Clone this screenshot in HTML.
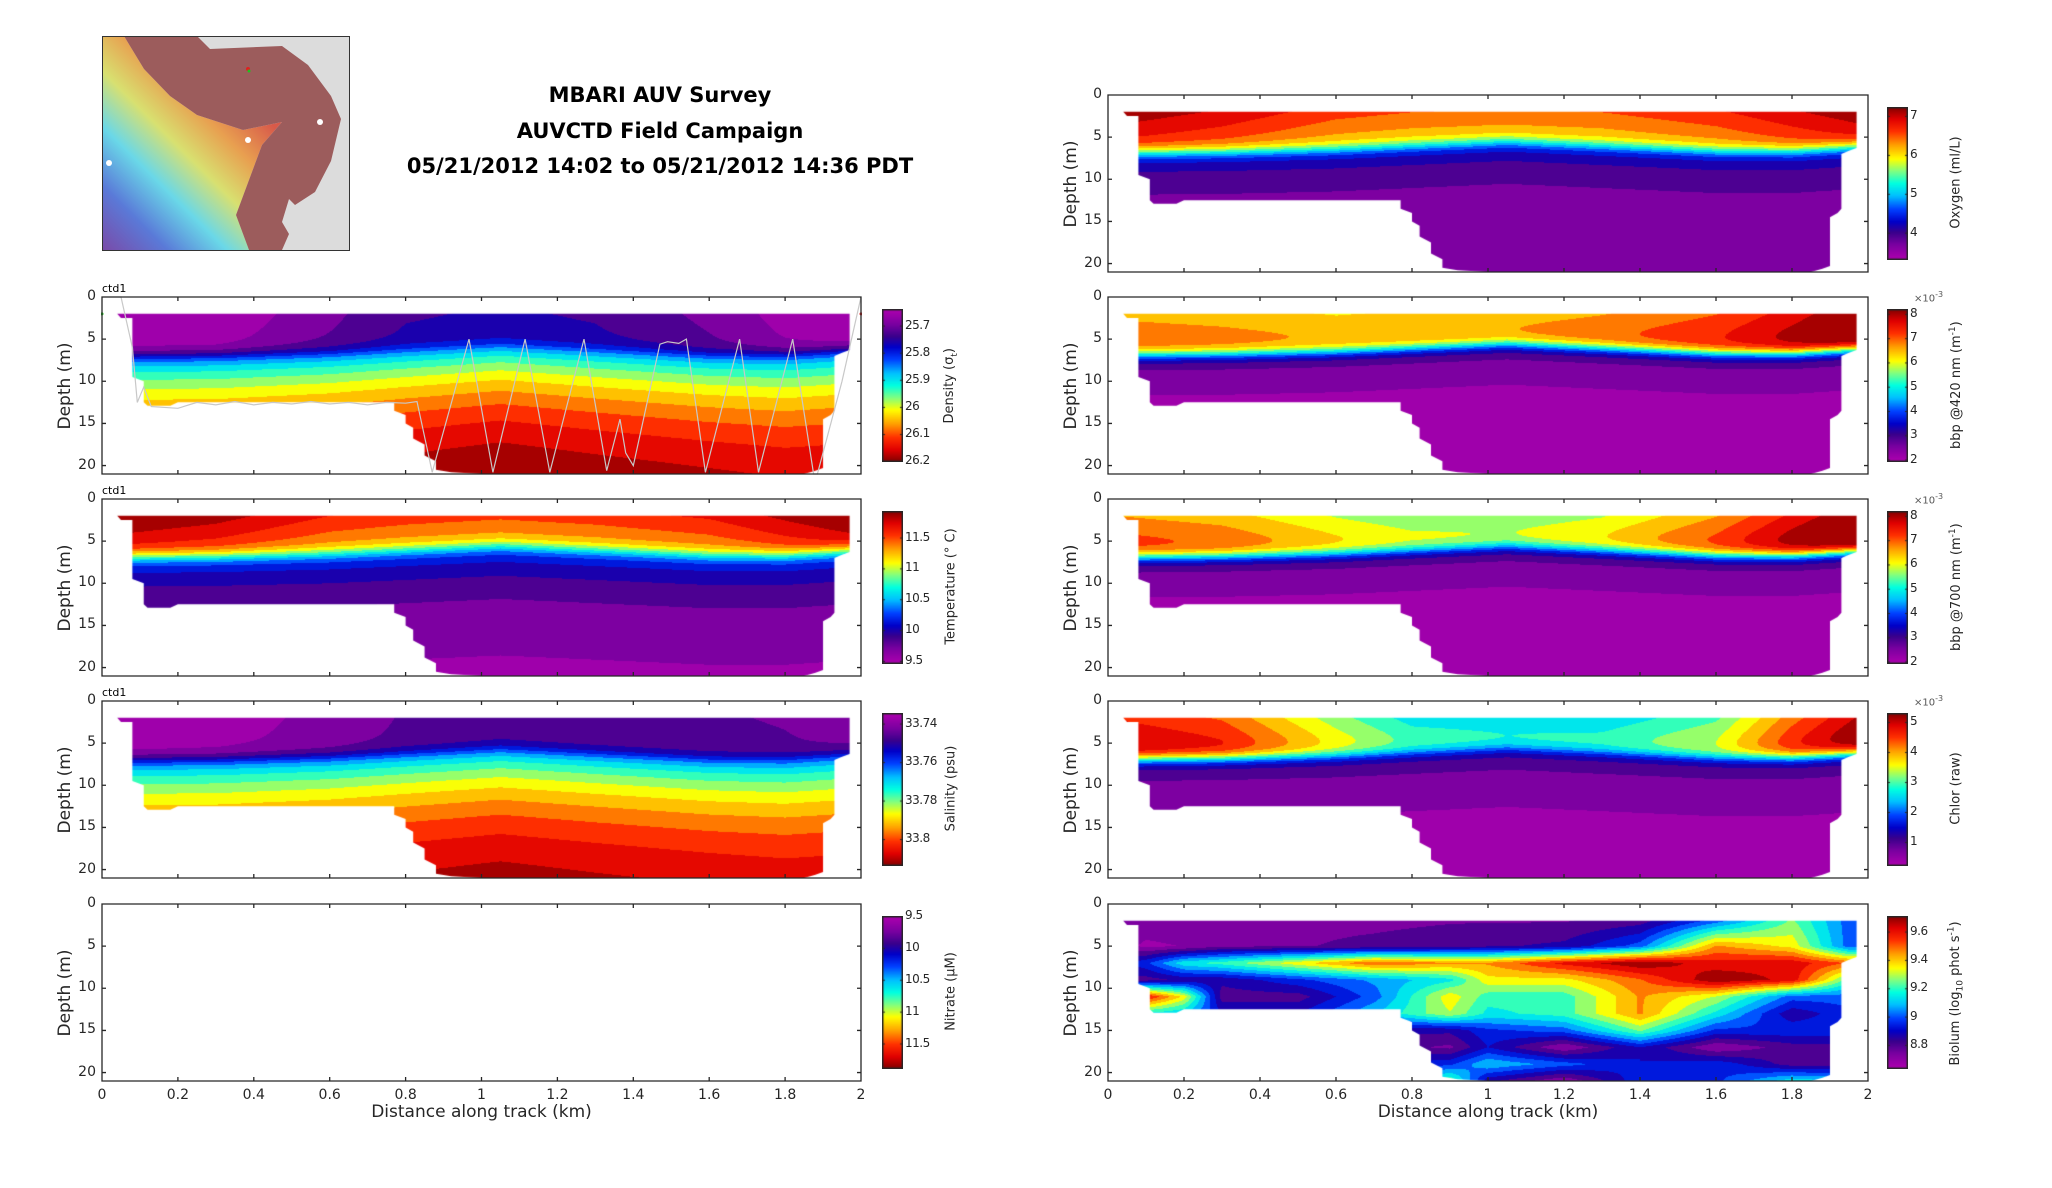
<!DOCTYPE html>
<html><head><meta charset="utf-8">
<style>
html,body{margin:0;padding:0;background:#fff;}
#root{position:relative;width:2052px;height:1188px;overflow:hidden;font-family:"DejaVu Sans","Liberation Sans",sans-serif;color:#262626;}
.t{position:absolute;white-space:nowrap;}
.title{font-weight:bold;font-size:21px;color:#000;transform:translateX(-50%);}
.tick{font-size:14px;}
canvas{position:absolute;}
svg{position:absolute;left:0;top:0;}
</style></head>
<body>
<div id="root">
  <svg id="map" style="left:102px;top:36px" width="248" height="215" viewBox="0 0 248 215">
    <defs>
      <linearGradient id="rb" x1="0" y1="1" x2="0.75" y2="0.1">
        <stop offset="0" stop-color="#7a4aa8"/>
        <stop offset="0.2" stop-color="#5a7ad8"/>
        <stop offset="0.38" stop-color="#6ad8e8"/>
        <stop offset="0.55" stop-color="#d8e070"/>
        <stop offset="0.72" stop-color="#e8a050"/>
        <stop offset="0.9" stop-color="#d85a4a"/>
      </linearGradient>
    </defs>
    <rect x="0" y="0" width="248" height="215" fill="#dcdcdc"/>
    <polygon fill="url(#rb)" points="0,0 22,0 42,33 68,60 95,79 141,94 180,86 160,109 147,144 134,179 147,214 0,214"/>
    <polygon fill="#9c5c5c" points="22,0 95,0 108,13 180,10 206,29 229,60 239,83 229,125 213,156 193,169 187,163 180,186 187,198 180,214 147,214 134,179 147,144 160,109 180,86 141,94 95,79 68,60 42,33"/>
    <circle cx="146" cy="33" r="2" fill="#e02020"/><circle cx="147" cy="35" r="1.5" fill="#20c020"/>
    <circle cx="218" cy="86" r="3" fill="#fff"/><circle cx="146" cy="104" r="3" fill="#fff"/><circle cx="7" cy="127" r="3" fill="#fff"/>
    <rect x="0.5" y="0.5" width="247" height="214" fill="none" stroke="#333" stroke-width="1"/>
  </svg>
  <div class="t title" style="left:660px;top:83px">MBARI AUV Survey</div>
  <div class="t title" style="left:660px;top:119px">AUVCTD Field Campaign</div>
  <div class="t title" style="left:660px;top:154px">05/21/2012 14:02 to 05/21/2012 14:36 PDT</div>
</div>
<script>
// ---- shared section data ----
const xKnots   = [0.05, 0.3, 0.6, 0.8, 1.05, 1.3, 1.6, 1.8, 1.97];
const thermo   = [6.8, 6.7, 6.4, 6.0, 5.5, 6.0, 6.6, 6.6, 6.1];
const maskX = [0.04,1.97,1.97,1.95,1.93,1.93,1.92,1.90,1.90,1.88,1.85,1.0,0.92,0.88,0.88,0.85,0.85,0.82,0.82,0.80,0.80,0.77,0.77,0.20,0.18,0.12,0.11,0.11,0.08,0.08,0.05];
const maskD = [2,2,6.3,6.6,7,13.5,14,14.5,20.3,20.6,21,21,20.8,20.5,19.5,18.8,17.5,16.8,15.5,15,14,13.5,12.5,12.5,12.9,12.9,12.5,10,9.5,2.5,2.5];
// density
const densSurf = [25.64,25.645,25.70,25.74,25.75,25.74,25.70,25.66,25.64];
const densBase = [25.83,25.83,25.84,25.85,25.86,25.85,25.84,25.83,25.83];
const densAmp  = [0.40,0.40,0.40,0.40,0.40,0.40,0.40,0.40,0.40];
// temperature
const tempSurf = [11.95,11.85,11.62,11.55,11.5,11.55,11.65,11.82,11.95];
const tempBase = [10.3,10.3,10.3,10.3,10.3,10.3,10.3,10.3,10.3];
const tempAmp  = [-0.75,-0.75,-0.75,-0.75,-0.75,-0.75,-0.75,-0.75,-0.75];
// salinity
const salSurf = [33.736,33.737,33.741,33.745,33.747,33.746,33.745,33.744,33.742];
const salBase = [33.762,33.762,33.763,33.764,33.765,33.764,33.763,33.762,33.762];
const salAmp  = [0.054,0.054,0.054,0.054,0.054,0.054,0.054,0.054,0.054];
// oxygen
const oxySurf = [7.15,6.95,6.6,6.5,6.45,6.5,6.7,6.95,7.15];
const oxyBase = [4.4,4.4,4.4,4.4,4.4,4.4,4.4,4.4,4.4];
const oxyAmp  = [-0.85,-0.85,-0.85,-0.85,-0.85,-0.85,-0.85,-0.85,-0.85];
// bbp420 (x1e-3)
const b420Surf = [6.5,6.4,6.2,6.3,6.4,6.6,7.0,7.6,8.2];
const b420Base = [3.0,3.0,3.0,3.0,3.0,3.0,3.0,3.0,3.0];
const b420Amp  = [-1.0,-1.0,-1.0,-1.0,-1.0,-1.0,-1.0,-1.0,-1.0];
// bbp700 (x1e-3)
const b700Surf = [6.6,6.4,5.8,5.5,5.5,5.8,6.6,7.5,8.2];
const b700Base = [3.0,3.0,3.0,3.0,3.0,3.0,3.0,3.0,3.0];
const b700Amp  = [-1.0,-1.0,-1.0,-1.0,-1.0,-1.0,-1.0,-1.0,-1.0];
// chlor (x1e-3)
const chlSurf = [4.6,4.3,3.2,2.6,2.5,2.5,3.0,4.2,5.0];
const chlBase = [1.2,1.2,1.2,1.2,1.2,1.2,1.2,1.2,1.2];
const chlAmp  = [-0.9,-0.9,-0.9,-0.9,-0.9,-0.9,-0.9,-0.9,-0.9];
// biolum grid (log10)
const bioX = [0.05,0.1,0.2,0.3,0.5,0.7,0.9,1.0,1.2,1.4,1.6,1.8,1.95];
const bioD = [2,5,7,9,11,13,15,17,19,21];
const bioGrid = [
 [8.75,8.75,8.76,8.76,8.75,8.75,8.76,8.76,8.76,8.8,9.0,9.25,9.0],
 [8.72,8.68,8.7,8.75,8.76,8.78,8.8,8.82,8.85,9.0,9.45,9.35,9.0],
 [8.9,8.95,9.15,9.2,9.35,9.5,9.45,9.45,9.6,9.7,9.6,9.62,9.5],
 [8.8,8.8,8.85,8.85,8.95,9.05,9.15,9.35,9.35,9.5,9.7,9.62,9.2],
 [9.6,9.6,9.35,8.8,8.8,9.0,9.35,9.2,9.2,9.45,9.3,9.0,9.0],
 [9.15,9.15,9.1,8.9,8.9,9.1,9.3,9.15,9.2,9.45,9.15,8.85,8.95],
 [9.0,9.0,9.0,8.9,8.9,8.85,8.85,8.95,9.0,9.25,8.95,8.95,8.95],
 [8.8,8.8,8.8,8.8,8.8,8.8,8.75,8.9,8.7,8.9,8.7,8.8,8.8],
 [8.9,8.9,8.9,8.9,8.9,8.9,8.95,9.1,9.0,8.9,8.95,8.8,8.8],
 [8.9,8.9,8.9,8.9,8.9,8.9,9.25,8.85,8.7,8.95,8.95,9.15,9.1]
];
// CTD yo-yo track
const ctdX = [0,0.05,0.08,0.093,0.11,0.13,0.2,0.25,0.3,0.35,0.4,0.45,0.5,0.55,0.6,0.65,0.7,0.75,0.8,0.83,0.87,0.967,1.03,1.115,1.18,1.27,1.33,1.365,1.38,1.40,1.47,1.49,1.52,1.54,1.59,1.68,1.73,1.82,1.875,1.885,1.95,2.0];
const ctdD = [0,0,6,12.5,10.7,13,13.2,12.5,12.8,12.4,12.8,12.5,12.7,12.4,12.7,12.5,12.8,12.5,12.6,12.4,20.8,5,20.8,5,20.8,5,20.6,14.5,18.5,20,5.6,5.3,5.5,5,20.8,5,20.8,5,21.5,21.5,10,0];
// tick labels
const xTicks = [0,0.2,0.4,0.6,0.8,1,1.2,1.4,1.6,1.8,2];
const yTicks = [0,5,10,15,20];

const root = document.getElementById('root');
const NS = 'http://www.w3.org/2000/svg';
const XMAX = 2, DMAX = 21;
const LEFT = {x0:102, x1:861, cb:882};
const RIGHT = {x0:1108, x1:1868, cb:1887};
const TOPS = [95,297,499,701,904];
const PH = 177;

function interp(xs, ys, x){
  if (x <= xs[0]) return ys[0];
  for (let i=1;i<xs.length;i++){ if (x <= xs[i]){ const f=(x-xs[i-1])/(xs[i]-xs[i-1]); return ys[i-1]+f*(ys[i]-ys[i-1]); } }
  return ys[ys.length-1];
}
const CM = [[0,176,0,176],[0.1,122,0,160],[0.18,58,0,140],[0.25,0,0,200],[0.33,0,64,255],[0.42,0,192,255],[0.5,0,255,224],[0.58,128,255,128],[0.66,255,255,0],[0.75,255,160,0],[0.84,255,48,0],[0.92,224,0,0],[1,128,0,0]];
function cmap(t){
  t=Math.max(0,Math.min(1,t));
  for (let i=1;i<CM.length;i++){ if (t<=CM[i][0]){ const a=CM[i-1],b=CM[i],f=(t-a[0])/(b[0]-a[0]); return [a[1]+f*(b[1]-a[1]),a[2]+f*(b[2]-a[2]),a[3]+f*(b[3]-a[3])]; } }
  return [128,0,0];
}
const NLEV = 16;
function qcolor(v, lo, hi){
  let t=(v-lo)/(hi-lo); let i=Math.floor(t*NLEV); i=Math.max(0,Math.min(NLEV-1,i));
  return cmap((i+0.5)/NLEV);
}
function layerField(p){
  return function(x,d){
    const z0=interp(xKnots,thermo,x);
    const s=interp(xKnots,p.surf,x)+p.up*(d-2);
    const b=interp(xKnots,p.base,x)+interp(xKnots,p.amp,x)*(1-Math.exp(-Math.max(0,d-z0)/p.L));
    const w=1/(1+Math.exp(-(d-z0)/0.45));
    return s*(1-w)+b*w;
  };
}
function bioField(x,d){
  let j=0; while (j<bioD.length-2 && d>bioD[j+1]) j++;
  let i=0; while (i<bioX.length-2 && x>bioX[i+1]) i++;
  const fx=Math.max(0,Math.min(1,(x-bioX[i])/(bioX[i+1]-bioX[i])));
  const fd=Math.max(0,Math.min(1,(d-bioD[j])/(bioD[j+1]-bioD[j])));
  const a=bioGrid[j][i]*(1-fx)+bioGrid[j][i+1]*fx;
  const b=bioGrid[j+1][i]*(1-fx)+bioGrid[j+1][i+1]*fx;
  return a*(1-fd)+b*fd;
}
function txt(s, x, y, cls, name, extra){
  const e=document.createElement('div');
  e.className='t '+(cls||'');
  e.innerHTML=s;
  e.style.left=x+'px'; e.style.top=y+'px';
  if (extra) e.style.cssText+=extra;
  
  
  root.appendChild(e);
  return e;
}

const panels = [
 {name:'density', side:LEFT, row:1, lo:25.639, hi:26.203, rev:true, f:layerField({surf:densSurf,base:densBase,amp:densAmp,up:0.004,L:8}), ticks:[25.7,25.8,25.9,26,26.1,26.2], tl:['25.7','25.8','25.9','26','26.1','26.2'], label:'Density (&sigma;<sub style="font-size:9px">t</sub>)', ctd:true, ctdLabel:true},
 {name:'temperature', side:LEFT, row:2, lo:9.45, hi:11.93, rev:false, f:layerField({surf:tempSurf,base:tempBase,amp:tempAmp,up:-0.08,L:5}), ticks:[9.5,10,10.5,11,11.5], tl:['9.5','10','10.5','11','11.5'], label:'Temperature (&deg; C)', ctdLabel:true},
 {name:'salinity', side:LEFT, row:3, lo:33.7345, hi:33.814, rev:true, f:layerField({surf:salSurf,base:salBase,amp:salAmp,up:0.0003,L:8}), ticks:[33.74,33.76,33.78,33.8], tl:['33.74','33.76','33.78','33.8'], label:'Salinity (psu)', ctdLabel:true},
 {name:'nitrate', side:LEFT, row:4, lo:9.5, hi:11.9, rev:true, f:null, ticks:[9.5,10,10.5,11,11.5], tl:['9.5','10','10.5','11','11.5'], label:'Nitrate (&mu;M)', xlab:true},
 {name:'oxygen', side:RIGHT, row:0, lo:3.3, hi:7.23, rev:false, f:layerField({surf:oxySurf,base:oxyBase,amp:oxyAmp,up:-0.12,L:4}), ticks:[4,5,6,7], tl:['4','5','6','7'], label:'Oxygen (ml/L)'},
 {name:'bbp420', side:RIGHT, row:1, lo:1.9, hi:8.2, rev:false, f:layerField({surf:b420Surf,base:b420Base,amp:b420Amp,up:0.15,L:4}), ticks:[2,3,4,5,6,7,8], tl:['2','3','4','5','6','7','8'], label:'bbp @420 nm (m<sup style="font-size:9px">-1</sup>)', exp:true},
 {name:'bbp700', side:RIGHT, row:2, lo:1.9, hi:8.2, rev:false, f:layerField({surf:b700Surf,base:b700Base,amp:b700Amp,up:0.2,L:4}), ticks:[2,3,4,5,6,7,8], tl:['2','3','4','5','6','7','8'], label:'bbp @700 nm (m<sup style="font-size:9px">-1</sup>)', exp:true},
 {name:'chlor', side:RIGHT, row:3, lo:0.2, hi:5.3, rev:false, f:layerField({surf:chlSurf,base:chlBase,amp:chlAmp,up:0.15,L:5}), ticks:[1,2,3,4,5], tl:['1','2','3','4','5'], label:'Chlor (raw)', exp:true},
 {name:'biolum', side:RIGHT, row:4, lo:8.63, hi:9.71, rev:false, f:bioField, ticks:[8.8,9,9.2,9.4,9.6], tl:['8.8','9','9.2','9.4','9.6'], label:'Biolum (log<sub style="font-size:9px">10</sub> phot s<sup style="font-size:9px">-1</sup>)', xlab:true}
];

panels.forEach(p=>{
  const S=p.side, top=TOPS[p.row], W=S.x1-S.x0, H=PH;
  const sx=x=>x/XMAX*W, sy=d=>d/DMAX*H;
  if (p.f){
    const cv=document.createElement('canvas');
    cv.width=W; cv.height=H;
    cv.style.left=S.x0+'px'; cv.style.top=top+'px';
    
    
    root.appendChild(cv);
    const off=document.createElement('canvas'); off.width=W; off.height=H;
    const oc=off.getContext('2d'); const img=oc.createImageData(W,H);
    for (let py=0;py<H;py++){
      const d=(py+0.5)/H*DMAX;
      for (let px=0;px<W;px++){
        const x=(px+0.5)/W*XMAX;
        const c=qcolor(p.f(x,d),p.lo,p.hi);
        const k=(py*W+px)*4; img.data[k]=c[0]; img.data[k+1]=c[1]; img.data[k+2]=c[2]; img.data[k+3]=255;
      }
    }
    oc.putImageData(img,0,0);
    const ctx=cv.getContext('2d');
    ctx.beginPath();
    maskX.forEach((mx,i)=>{ const X=sx(mx), Y=sy(maskD[i]); i?ctx.lineTo(X,Y):ctx.moveTo(X,Y); });
    ctx.closePath(); ctx.clip(); ctx.drawImage(off,0,0);
  }
  const svg=document.createElementNS(NS,'svg');
  svg.setAttribute('width',W+2); svg.setAttribute('height',H+2);
  svg.style.left=(S.x0-1)+'px'; svg.style.top=(top-1)+'px';
  
  
  root.appendChild(svg);
  const g=document.createElementNS(NS,'g'); g.setAttribute('transform','translate(1,1)'); svg.appendChild(g);
  if (p.ctd){
    const pl=document.createElementNS(NS,'polyline');
    pl.setAttribute('points', ctdX.map((x,i)=>sx(x).toFixed(1)+','+Math.min(H,sy(ctdD[i])).toFixed(1)).join(' '));
    pl.setAttribute('fill','none'); pl.setAttribute('stroke','#c8c8c8'); pl.setAttribute('stroke-width','1.2');
    
    
    g.appendChild(pl);
    [[0,'#20c020'],[2,'#e02020']].forEach(([x,col])=>{
      const c=document.createElementNS(NS,'circle'); c.setAttribute('cx',sx(x)); c.setAttribute('cy',sy(2)); c.setAttribute('r',1.5); c.setAttribute('fill',col);
      
      
      g.appendChild(c);
    });
  }
  let path='M0,0 H'+W+' V'+H+' H0 Z';
  xTicks.forEach(t=>{ const X=sx(t); path+=' M'+X+',0 v4 M'+X+','+H+' v-4'; });
  yTicks.forEach(t=>{ const Y=sy(t); path+=' M0,'+Y+' h4 M'+W+','+Y+' h-4'; });
  const ax=document.createElementNS(NS,'path'); ax.setAttribute('d',path); ax.setAttribute('fill','none'); ax.setAttribute('stroke','#262626'); ax.setAttribute('stroke-width','1.3');
  
  
  g.appendChild(ax);
  yTicks.forEach(t=>{
    txt(String(t), S.x0-38, top+sy(t)-9, 'tick', 'y-tick-label', 'width:32px;text-align:right;');
  });
  txt('Depth (m)', S.x0-37, top+H/2-10, '', 'y-axis-title', 'font-size:17px;transform:translate(-50%,0) rotate(-90deg);transform-origin:50% 50%;');
  if (p.ctdLabel) txt('ctd1', S.x0, top-15, '', 'ctd-label', 'font-size:11px;color:#000;');
  if (p.xlab){
    xTicks.forEach(t=>{ txt(String(t), S.x0+sx(t), top+H+6, 'tick', 'x-tick-label', 'transform:translateX(-50%);'); });
    txt('Distance along track (km)', S.x0+W/2, top+H+21, '', 'x-axis-title', 'font-size:17px;transform:translateX(-50%);');
  }
  const cbT=top+12, cbH=H-24, cbW=21;
  const cb=document.createElement('canvas'); cb.width=cbW; cb.height=cbH;
  cb.style.left=S.cb+'px'; cb.style.top=cbT+'px';
  
  
  root.appendChild(cb);
  const cc=cb.getContext('2d');
  for (let y=0;y<cbH;y++){
    const f=(y+0.5)/cbH; const v=p.rev? p.lo+f*(p.hi-p.lo) : p.hi-f*(p.hi-p.lo);
    const c=cmap((v-p.lo)/(p.hi-p.lo)); cc.fillStyle='rgb('+c.map(Math.round).join(',')+')'; cc.fillRect(0,y,cbW,1);
  }
  cc.strokeStyle='#262626'; cc.lineWidth=1.5; cc.strokeRect(0.75,0.75,cbW-1.5,cbH-1.5);
  p.ticks.forEach((t,i)=>{
    const f=(t-p.lo)/(p.hi-p.lo); const yy=p.rev? f*cbH : (1-f)*cbH;
    cc.fillStyle='#262626'; cc.fillRect(0,yy,3,1); cc.fillRect(cbW-3,yy,3,1);
    txt(p.tl[i], S.cb+cbW+2, cbT+yy-8, 'tick', 'colorbar-tick-label', 'font-size:12px;letter-spacing:-0.5px;');
  });
  txt(p.label, S.cb+cbW+48, cbT+cbH/2-9, '', 'colorbar-title', 'font-size:13px;transform:translate(-50%,0) rotate(-90deg);transform-origin:50% 50%;');
  if (p.exp) txt('&times;10<sup style="font-size:8px">-3</sup>', S.cb+cbW+6, top-7, '', 'colorbar-exponent', 'font-size:10px;color:#555;');
});
</script>
</body></html>
